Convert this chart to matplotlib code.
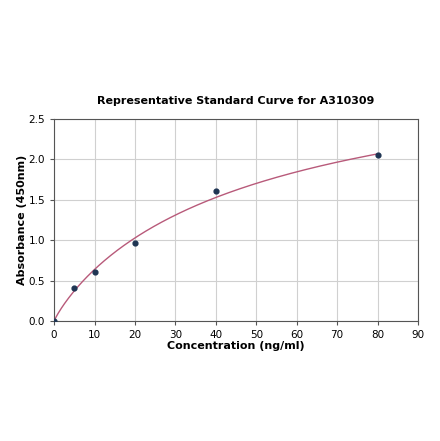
import numpy as np
import matplotlib
matplotlib.use("Agg")
import matplotlib.pyplot as plt

conc = [0, 5, 10, 20, 40, 80]
absorb = [0.0, 0.41, 0.61, 0.96, 1.61, 2.05]

# fitted curve parameters (4PL with bottom = 0)
fit_top = 3.49
fit_c = 52.7
fit_b = 0.9

fig = plt.figure(figsize=(4.4, 4.41), dpi=100)
ax = fig.add_axes([0.123, 0.272, 0.827, 0.458])

xs = np.linspace(0, 80, 400)
u = (xs / fit_c) ** fit_b
ys = fit_top * u / (1 + u)
ax.plot(xs, ys, color="#b85a7a", lw=1.0, zorder=3)
ax.scatter(conc, absorb, s=12, color="#1f3553", zorder=4)

ax.set_xlim(0, 90)
ax.set_ylim(0, 2.5)
ax.set_xticks(range(0, 91, 10))
ax.set_yticks([0, 0.5, 1.0, 1.5, 2.0, 2.5])
ax.set_yticklabels(["0.0", "0.5", "1.0", "1.5", "2.0", "2.5"])
ax.grid(True, color="#d0d0d0", lw=0.8)
ax.set_axisbelow(True)
ax.tick_params(labelsize=7.5, length=3, color="#555555")
for s in ax.spines.values():
    s.set_color("#555555")
ax.set_title("Representative Standard Curve for A310309", fontsize=8, fontweight="bold", pad=11)
ax.set_xlabel("Concentration (ng/ml)", fontsize=8, fontweight="bold", labelpad=1)
ax.set_ylabel("Absorbance (450nm)", fontsize=8, fontweight="bold", labelpad=1)

fig.savefig("out.png", dpi=100)
